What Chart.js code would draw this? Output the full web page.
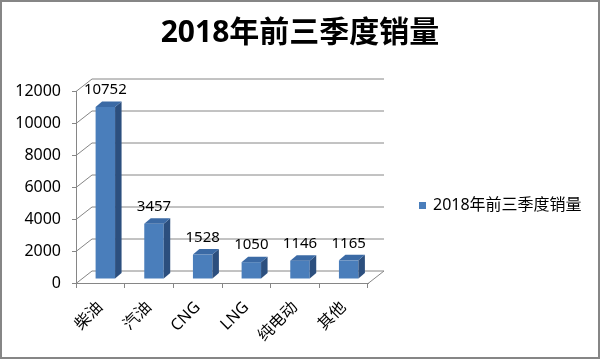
<!DOCTYPE html>
<html><head><meta charset="utf-8">
<script src="https://cdn.jsdelivr.net/npm/chart.js@4.4.0/dist/chart.umd.min.js"></script>
<style>html,body{margin:0;padding:0;background:#fff}canvas{display:block}</style>
</head><body>
<canvas id="c" width="600" height="359"></canvas>
<script>
const categories = ['柴油', '汽油', 'CNG', 'LNG', '纯电动', '其他'];
const sales = [10752, 3457, 1528, 1050, 1146, 1165];
const seriesName = '2018年前三季度销量';
const titleText = '2018年前三季度销量';
const yTicks = [0, 2000, 4000, 6000, 8000, 10000, 12000];

const FONT = "'Noto Sans', 'Noto Sans CJK SC', sans-serif";
const GRID = '#868686';
const FRONT = '#4a7ebb';
const SIDE = '#2c4f7e';
const TOP = '#3b6aa5';
const WALL = { dx: 16, dy: -12.5 };   // depth of the back wall
const BAR = { sx: 5, sy: -4, dx: 6.5, dy: -5.5 }; // bar placement & depth

const threeD = {
  id: 'threeD',
  beforeDraw(chart) {
    const ctx = chart.ctx;
    ctx.save();
    ctx.fillStyle = '#fff';
    ctx.fillRect(0, 0, chart.width, chart.height);
    ctx.restore();
  },
  beforeDatasetsDraw(chart) {
    const { ctx, chartArea: a, scales: { y } } = chart;
    ctx.save();
    ctx.strokeStyle = GRID;
    ctx.lineWidth = 1;
    ctx.beginPath();
    yTicks.forEach(v => {
      const py = Math.round(y.getPixelForValue(v)) + 0.5;
      ctx.moveTo(a.left, py);
      ctx.lineTo(a.left + WALL.dx, py + WALL.dy);
      ctx.lineTo(a.right + WALL.dx, py + WALL.dy);
    });
    const b = Math.round(a.bottom) + 0.5;
    ctx.moveTo(a.right, b);
    ctx.lineTo(a.right + WALL.dx, b + WALL.dy);
    ctx.stroke();
    ctx.restore();
    ctx.save();
    ctx.translate(BAR.sx, BAR.sy);
  },
  afterDatasetsDraw(chart) {
    const ctx = chart.ctx;
    const meta = chart.getDatasetMeta(0);
    meta.data.forEach((bar, i) => {
      const { x, y, base, width } = bar.getProps(['x', 'y', 'base', 'width'], true);
      const l = x - width / 2, r = x + width / 2;
      ctx.fillStyle = SIDE;
      ctx.beginPath();
      ctx.moveTo(r, y); ctx.lineTo(r + BAR.dx, y + BAR.dy);
      ctx.lineTo(r + BAR.dx, base + BAR.dy); ctx.lineTo(r, base);
      ctx.closePath(); ctx.fill();
      ctx.fillStyle = TOP;
      ctx.beginPath();
      ctx.moveTo(l, y); ctx.lineTo(l + BAR.dx, y + BAR.dy);
      ctx.lineTo(r + BAR.dx, y + BAR.dy); ctx.lineTo(r, y);
      ctx.closePath(); ctx.fill();
      ctx.fillStyle = '#000';
      ctx.font = '15px ' + FONT;
      ctx.textAlign = 'center';
      ctx.textBaseline = 'middle';
      ctx.fillText(String(sales[i]), x, y - 17);
    });
    ctx.restore();
  },
  afterDraw(chart) {
    const { ctx, chartArea: a } = chart;
    ctx.save();
    // legend
    const lx = a.right + 51, ly = 205.5;
    ctx.fillStyle = FRONT;
    ctx.fillRect(lx, ly - 3.5, 7, 7);
    ctx.fillStyle = '#000';
    ctx.font = '16px ' + FONT;
    ctx.textAlign = 'left';
    ctx.textBaseline = 'middle';
    ctx.fillText(seriesName, lx + 14, ly);
    // outer frame
    ctx.strokeStyle = GRID;
    ctx.lineWidth = 2;
    ctx.strokeRect(1, 1, chart.width - 2, chart.height - 2);
    ctx.restore();
  }
};

new Chart(document.getElementById('c'), {
  type: 'bar',
  data: {
    labels: categories,
    datasets: [{
      label: seriesName,
      data: sales,
      backgroundColor: FRONT,
      borderWidth: 0,
      categoryPercentage: 0.8,
      barPercentage: 0.5,
      clip: false
    }]
  },
  options: {
    responsive: false,
    animation: false,
    layout: { padding: 0 },
    plugins: {
      legend: { display: false },
      tooltip: { enabled: false },
      title: {
        display: true,
        text: titleText,
        color: '#000',
        font: { family: FONT, size: 30, weight: 'bold' },
        padding: { top: 15, bottom: 40 }
      }
    },
    scales: {
      x: {
        grid: { display: true, drawOnChartArea: false, drawTicks: true, tickLength: 5, color: GRID, offset: true },
        border: { display: true, color: GRID },
        ticks: { autoSkip: false, minRotation: 45, maxRotation: 45, padding: 10, color: '#000', font: { family: FONT, size: 16 } },
        afterFit(s) { s.height = 76; }
      },
      y: {
        min: 0, max: 12000,
        afterBuildTicks(s) { s.ticks = yTicks.map(v => ({ value: v })); },
        grid: { display: true, drawOnChartArea: false, drawTicks: true, tickLength: 4, color: GRID },
        border: { display: true, color: GRID },
        ticks: { padding: 11, color: '#000', font: { family: FONT, size: 16 }, callback: v => String(v) },
        afterFit(s) { s.width = 76; }
      },
      yR: {
        type: 'linear', position: 'right', display: true,
        grid: { display: false }, border: { display: false }, ticks: { display: false },
        afterFit(s) { s.width = 232; }
      }
    }
  },
  plugins: [threeD]
});
</script>
</body></html>
